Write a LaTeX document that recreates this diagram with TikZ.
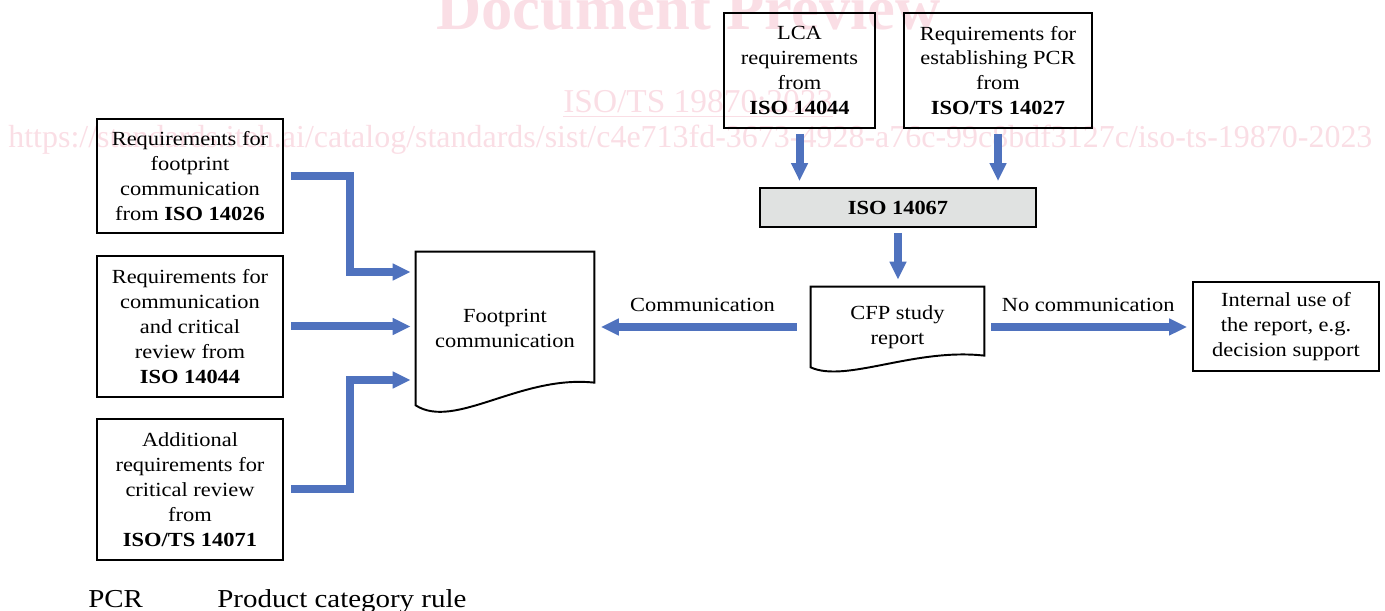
\documentclass[tikz,border=0pt]{standalone}
\usepackage{fontspec}
\setmainfont{Liberation Serif}[FakeStretch=1.12]
\newfontfamily\wmfont{Liberation Serif}
\usepackage{tikz}
\usetikzlibrary{arrows.meta}
\usepackage{xcolor}
\definecolor{flowblue}{RGB}{79,114,190}
\definecolor{boxgray}{RGB}{224,226,225}
\definecolor{wmpink}{RGB}{250,222,229}

\tikzset{
box/.style = {draw, line width = 1.1pt, align = center, inner sep = 0pt},
doc/.style = {draw, line width = 1.1pt},
flow/.style = {draw = flowblue, line width = 0.16cm, -{Triangle[length = 0.36cm, width = 0.32cm]}, shorten < = 0.14cm, shorten > = 0.1cm},
}

\begin{document}
\begin{tikzpicture}[font = \fontsize{11.4}{14.2}\selectfont]
\useasboundingbox (0, 0) rectangle (27.7, 12.22) ;
\node(wmtitle) at (8.72, 11.62) [anchor = base west, text = wmpink, inner sep = 0pt, font = \wmfont\bfseries\fontsize{35.6}{40}\selectfont] {Document Preview} ;
\node(wmcode) at (11.26, 9.96) [anchor = base west, text = wmpink, inner sep = 0pt, font = \wmfont\fontsize{19}{22}\selectfont] {\underline{ISO/TS 19870:2023}} ;
\node(wmurl) at (0.16, 9.26) [anchor = base west, text = wmpink, inner sep = 0pt, font = \wmfont\fontsize{18.7}{22}\selectfont] {\resizebox{27.28cm}{!}{https://standards.iteh.ai/catalog/standards/sist/c4e713fd-3673-4928-a76c-99c8bdf3127c/iso-ts-19870-2023}} ;
\node(reqA) at (3.80, 8.70) [box, minimum width = 3.72cm, minimum height = 2.28cm] {Requirements for\\footprint\\communication\\from \textbf{ISO 14026}} ;
\node(reqB) at (3.80, 5.69) [box, minimum width = 3.72cm, minimum height = 2.82cm] {Requirements for\\communication\\and critical\\review from\\\textbf{ISO 14044}} ;
\node(reqC) at (3.80, 2.43) [box, minimum width = 3.72cm, minimum height = 2.82cm] {Additional\\requirements for\\critical review\\from\\\textbf{ISO/TS 14071}} ;
\node(footprint) at (10.10, 5.65) [minimum width = 3.56cm, minimum height = 3.06cm, inner sep = 0pt, align = center] {Footprint\\communication} ;
\node(lca) at (15.99, 10.81) [box, minimum width = 3.02cm, minimum height = 2.30cm] {LCA\\requirements\\from\\\textbf{ISO 14044}} ;
\node(pcr) at (19.96, 10.81) [box, minimum width = 3.76cm, minimum height = 2.30cm] {Requirements for\\establishing PCR\\from\\\textbf{ISO/TS 14027}} ;
\node(iso) at (17.96, 8.07) [box, fill = boxgray, minimum width = 5.52cm, minimum height = 0.78cm] {\textbf{ISO 14067}} ;
\node(cfp) at (17.95, 5.68) [minimum width = 3.46cm, minimum height = 1.60cm, inner sep = 0pt, align = center] {CFP study\\report} ;
\node(internal) at (25.72, 5.69) [box, minimum width = 3.72cm, minimum height = 1.78cm] {Internal use of\\the report, e.g.\\decision support} ;
\node(pcrabbr) at (1.76, 0.06) [anchor = base west, inner sep = 0pt, font = \fontsize{14.7}{17}\selectfont] {PCR} ;
\node(pcrtext) at (4.34, 0.06) [anchor = base west, inner sep = 0pt, font = \fontsize{14.7}{17}\selectfont] {Product category rule} ;
\draw[doc] (footprint.south west) -- (footprint.north west) -- (footprint.north east) -- ++(0, -2.62) .. controls +(-1.48, 0.16) and +(0.78, -0.5) .. (footprint.south west) -- cycle ;
\draw[doc] (cfp.south west) -- (cfp.north west) -- (cfp.north east) -- ++(0, -1.38) .. controls +(-1.4, 0.16) and +(0.7, -0.32) .. (cfp.south west) -- cycle ;
\coordinate(bendA) at (6.99, 6.78) ;
\coordinate(bendC) at (6.99, 4.62) ;
\draw[flow] (reqA.east) -| (bendA) -- (bendA -| footprint.west) ;
\draw[flow] (reqB.east) -- (reqB.east -| footprint.west) ;
\draw[flow] (reqC.east) -| (bendC) -- (bendC -| footprint.west) ;
\draw[flow, shorten < = 0.1cm, shorten > = 0.12cm] (lca.south) -- (lca.south |- iso.north) ;
\draw[flow, shorten < = 0.1cm, shorten > = 0.12cm] (pcr.south) -- (pcr.south |- iso.north) ;
\draw[flow, shorten < = 0.1cm, shorten > = 0.14cm] (iso.south) -- (iso.south |- cfp.north) ;
\draw[flow, shorten < = 0.28cm, shorten > = 0.13cm] (cfp.west) -- (cfp.west -| footprint.east) node[midway, above = 0.1cm] {Communication} ;
\draw[flow] (cfp.east) -- (cfp.east -| internal.west) node[midway, above = 0.1cm] {No communication} ;
\end{tikzpicture}
\end{document}
